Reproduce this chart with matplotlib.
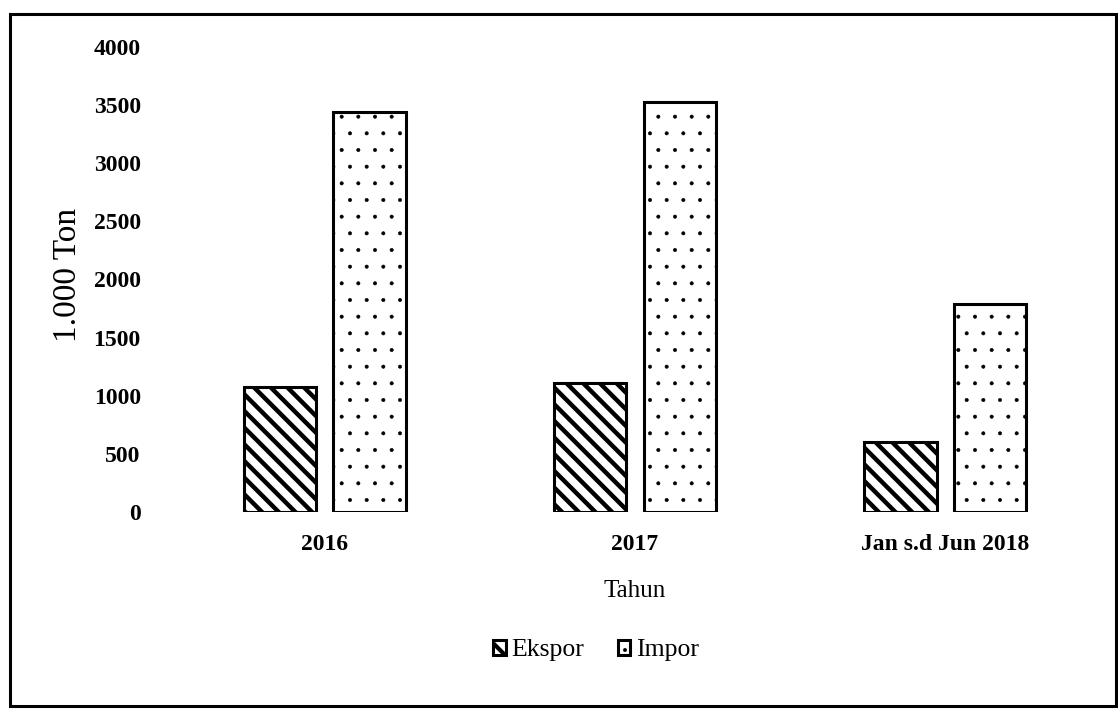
import numpy as np
import matplotlib.pyplot as plt
from matplotlib.patches import Rectangle

categories = ["2016", "2017", "Jan s.d Jun 2018"]
ekspor = [1075, 1110, 600]
impor = [3440, 3530, 1790]
yticks = [0, 500, 1000, 1500, 2000, 2500, 3000, 3500, 4000]

plt.rcParams['font.family'] = ['Liberation Serif', 'DejaVu Serif']
plt.rcParams['hatch.linewidth'] = 3.0

fig = plt.figure(figsize=(11.18, 7.11), dpi=100)
ax = fig.add_axes([0.152, 0.280, 0.832, 0.654])

x = np.arange(len(categories))
w = 0.235
gap = 0.055
b1 = ax.bar(x - (w + gap) / 2, ekspor, w, color="white", edgecolor="black",
            linewidth=2.2, hatch="\\\\", label="Ekspor")
b2 = ax.bar(x + (w + gap) / 2, impor, w, color="white", edgecolor="black",
            linewidth=2.2, hatch=".", label="Impor")
for p in b1:
    p.set_hatch_linewidth(3.2)
for p in b2:
    p.set_hatch_linewidth(0.4)

ax.set_xlim(-0.5, 2.5)
ax.set_ylim(0, 4000)
ax.set_yticks(yticks)
ax.set_xticks(x)
ax.set_xticklabels(categories, fontsize=17, fontweight="bold")
for t in ax.get_yticklabels():
    t.set_fontweight("bold")
ax.tick_params(axis="y", labelsize=17, length=0, pad=21)
ax.tick_params(axis="x", length=0, pad=16)
for s in ax.spines.values():
    s.set_visible(False)

ax.set_ylabel("1.000 Ton", fontsize=24)
ax.yaxis.set_label_coords(-0.093, 0.51)
ax.set_xlabel("Tahun", fontsize=18, labelpad=18)

leg = ax.legend(loc="center", bbox_to_anchor=(0.458, -0.298), ncol=2,
                frameon=False, fontsize=18.5, handlelength=0.5, handleheight=0.5,
                handletextpad=0.2, columnspacing=1.3)
hs = leg.legend_handles
hs[0].set_hatch_linewidth(3.0)
hs[1].set_hatch_linewidth(0.4)
for h in hs:
    h.set_linewidth(2.2)

fig.patches.append(Rectangle((10 / 1118, 1 - 706 / 711), 1106 / 1118, 692 / 711,
                             transform=fig.transFigure, fill=False,
                             edgecolor="black", linewidth=2.2))

fig.savefig("out.png", dpi=100)
